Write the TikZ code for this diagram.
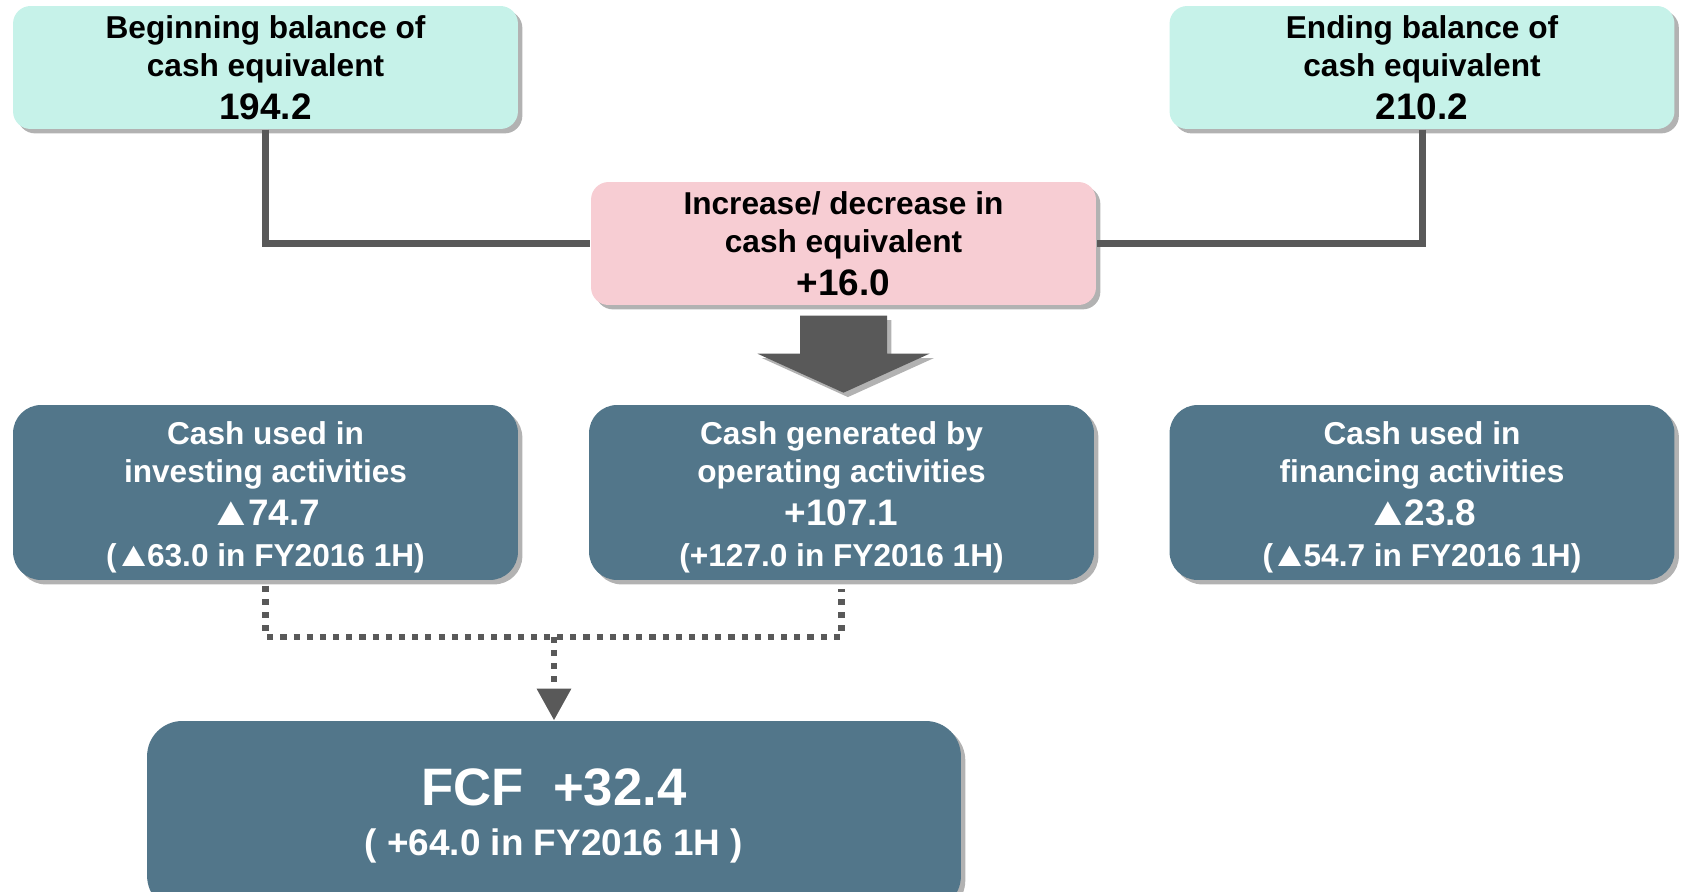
\documentclass[tikz,border=0pt]{standalone}
\usepackage{fontspec}
\setmainfont{Liberation Sans}
\usetikzlibrary{shadows,arrows.meta}
\definecolor{tealbox}{HTML}{C6F2E9}
\definecolor{pinkbox}{HTML}{F7CDD3}
\definecolor{slatebox}{HTML}{52768A}
\definecolor{linegrey}{HTML}{595959}
\newcommand{\tri}{\kern-1.5pt\scalebox{1.25}[1.1]{▲}\kern-3.5pt}
\newcommand{\bignum}{\fontsize{21}{25}\selectfont}
\newcommand{\topstrut}{\rule{0pt}{18.5pt}}
\begin{document}
\begin{tikzpicture}[x=0.02cm, y=-0.02cm, thick]
        \tikzstyle{boxshadow} = [drop shadow={shadow xshift=2.5pt, shadow yshift=-2.5pt, fill=black, opacity=0.3}]
        \tikzstyle{balance} = [rectangle, fill=tealbox, rounded corners=10pt, align=center, minimum width=10.1cm, minimum height=2.46cm, inner sep=0pt, boxshadow, font=\bfseries\fontsize{18}{21.6}\selectfont]
        \tikzstyle{change} = [balance, fill=pinkbox]
        \tikzstyle{flow} = [rectangle, fill=slatebox, text=white, rounded corners=16pt, align=center, minimum width=10.1cm, minimum height=3.5cm, inner sep=0pt, boxshadow, font=\bfseries\fontsize{18}{21.6}\selectfont]
        \tikzstyle{fcfbox} = [flow, rounded corners=20pt, minimum width=16.28cm, minimum height=3.8cm]
        \tikzstyle{link} = [draw=linegrey, line width=4pt]
        \tikzstyle{dotlink} = [draw=linegrey, line width=3.5pt, dash pattern=on 3.5pt off 4pt]
        \useasboundingbox (0,0) rectangle (1683,892);
        \node[balance] (begin) at (265.5,67.5) {Beginning balance of\\cash equivalent\\[3pt]{\bignum 194.2}};
        \node[balance] (ending) at (1422,67.5) {Ending balance of\\cash equivalent\\[3pt]{\bignum 210.2}};
        \node[change] (delta) at (843.5,243.5) {Increase/ decrease in\\cash equivalent\\[3pt]{\bignum +16.0}};
        \node[flow] (invest) at (265.5,492.5) {\topstrut Cash used in\\investing activities\\[3pt]{\bignum \tri74.7}\\[1.5pt](\tri63.0 in FY2016 1H)};
        \node[flow] (operate) at (841.5,492.5) {\topstrut Cash generated by\\operating activities\\[3pt]{\bignum +107.1}\\[1.5pt](+127.0 in FY2016 1H)};
        \node[flow] (finance) at (1422,492.5) {\topstrut Cash used in\\financing activities\\[3pt]{\bignum \tri23.8}\\[1.5pt](\tri54.7 in FY2016 1H)};
        \node[fcfbox] (fcf) at (554,816) {{\fontsize{30}{36}\selectfont FCF\ \ +32.4}\\[7pt]{\fontsize{21}{28}\selectfont ( +64.0 in FY2016 1H )}};
        \draw[link] (begin.south) |- (delta.west);
        \draw[link] (ending.south) |- (delta.east);
        \fill[linegrey, boxshadow] (delta.south) ++(-43.5,10) -- ++(87,0) -- ++(0,38) -- ++(42.5,0) -- ++(-86,39) -- ++(-86,-39) -- ++(42.5,0) -- cycle;
        \draw[dotlink] (invest.south) ++(0,5) -- ++(0,51) coordinate (join) -| ([yshift=-5]operate.south);
        \draw[dotlink, -{Triangle[width=18.8pt, length=18pt]}] (join -| fcf.north) -- (fcf.north);
    \end{tikzpicture}
\end{document}
